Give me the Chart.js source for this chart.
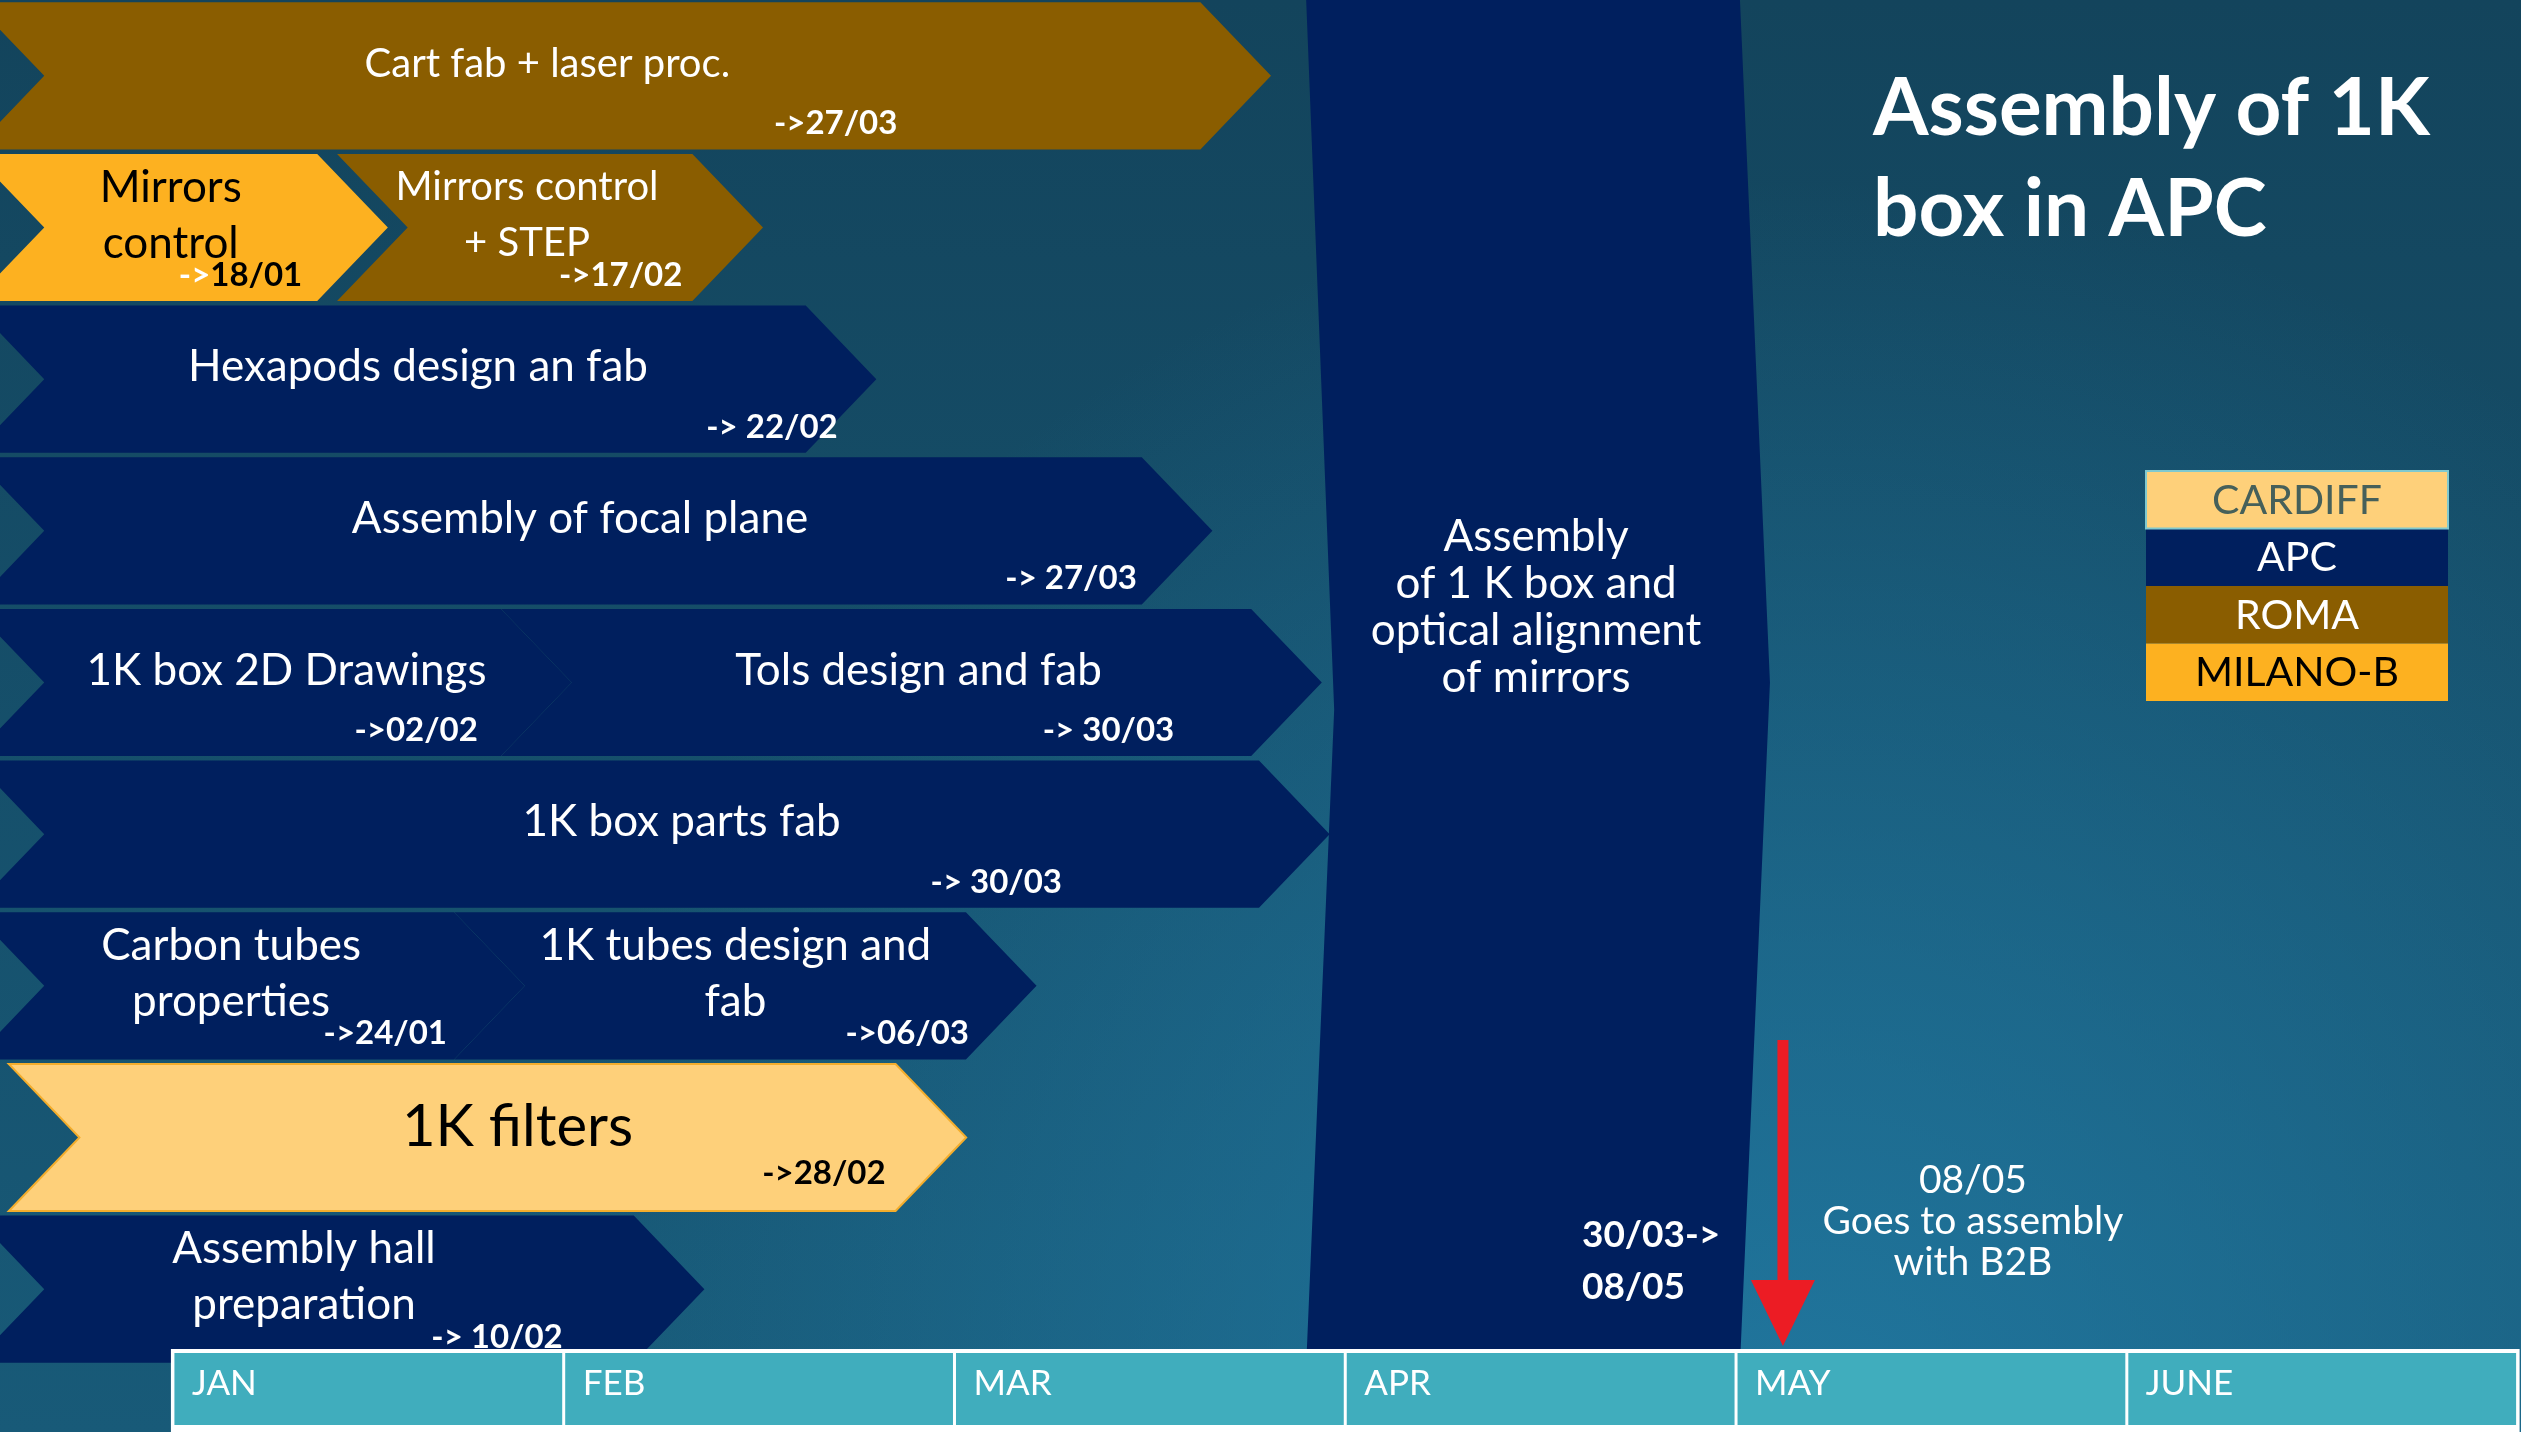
<!DOCTYPE html>
<html>
<head>
<meta charset="utf-8">
<title>Assembly of 1K box in APC</title>
<script src="https://cdn.jsdelivr.net/npm/chart.js@4.4.1/dist/chart.umd.min.js"></script>
<style>
  html, body { margin: 0; padding: 0; background: #14475f; }
  #wrap { width: 2521px; height: 1432px; }
</style>
</head>
<body>
<div id="wrap"><canvas id="plan" width="2521" height="1432"></canvas></div>
<script>
// x unit = 1 month, 0 = 1 January
const months = ['JAN', 'FEB', 'MAR', 'APR', 'MAY', 'JUNE'];

// legend order
const teams = ['CARDIFF', 'APC', 'ROMA', 'MILANO-B'];

// lanes, top to bottom
const lanes = ['L1', 'L2', 'L3', 'L4', 'L5', 'L6', 'L7', 'L8', 'L9'];

const taskNames = [
  'Cart fab + laser proc.',
  'Mirrors\ncontrol',
  'Mirrors control\n+ STEP',
  'Hexapods design an fab',
  'Assembly of focal plane',
  '1K box 2D Drawings',
  'Tols design and fab',
  '1K box parts fab',
  'Carbon tubes\nproperties',
  '1K tubes design and\nfab',
  '1K filters',
  'Assembly hall\npreparation'
];
const taskLane = [0, 1, 1, 2, 3, 4, 4, 5, 6, 6, 7, 8];
const taskTeam = ['ROMA', 'MILANO-B', 'ROMA', 'APC', 'APC', 'APC', 'APC', 'APC', 'APC', 'APC', 'CARDIFF', 'APC'];
const taskStart = [-0.51, -0.51, 0.42, -0.51, -0.51, -0.51, 0.84, -0.51, -0.51, 0.72, -0.42, -0.51];
const taskEnd = [2.81, 0.55, 1.51, 1.80, 2.66, 1.02, 2.94, 2.96, 0.90, 2.21, 2.03, 1.36];
const taskDue = ['->27/03', '->18/01', '->17/02', '-> 22/02', '-> 27/03', '->02/02',
                 '-> 30/03', '-> 30/03', '->24/01', '->06/03', '->28/02', '-> 10/02'];

// integration block over all lanes
const finalName = 'Assembly\nof 1 K box and\noptical alignment\nof mirrors';
const finalSpan = [2.90, 4.01];
const finalDue = '30/03->\n08/05';

const milestoneAt = 4.12;
const milestoneText = '08/05\nGoes to assembly\nwith B2B';

const titleText = 'Assembly of 1K\nbox in APC';

// ---- styles ----
const FONT = "Lato, 'Open Sans', sans-serif";
const teamFill = { 'CARDIFF': '#fed07a', 'APC': '#001f5e', 'ROMA': '#8a5d00', 'MILANO-B': '#fdb120' };
const teamInk = { 'CARDIFF': '#000000', 'APC': '#ffffff', 'ROMA': '#ffffff', 'MILANO-B': '#000000' };
const legendInk = { 'CARDIFF': '#46605a', 'APC': '#ffffff', 'ROMA': '#ffffff', 'MILANO-B': '#000000' };
// small text nudges so labels sit like on the slide
const labelNudge = [-75, -10, -23, -7, -13, 14, 7, 30, -18, -10, 30, -35];
const dueInset = [303, 15, 10, -32, 5, 23, 77, 197, 7, -3, 10, 71];
const labelSize = [40, 44, 40, 44, 44, 44, 44, 44, 44, 44, 58, 44];

function txt(ctx, text, x, y, lh) {
  const parts = text.split('\n');
  const y0 = y - (parts.length - 1) * lh / 2;
  parts.forEach((p, i) => ctx.fillText(p, x, y0 + i * lh));
}

function chevron(ctx, s, e, top, bot, d) {
  const mid = (top + bot) / 2;
  ctx.beginPath();
  ctx.moveTo(s, top);
  ctx.lineTo(e - d, top);
  ctx.lineTo(e, mid);
  ctx.lineTo(e - d, bot);
  ctx.lineTo(s, bot);
  ctx.lineTo(s + d, mid);
  ctx.closePath();
}

const planArt = {
  id: 'planArt',
  beforeDraw(chart) {
    const ctx = chart.ctx;
    const W = chart.width, H = chart.height;
    ctx.save();
    const lin = ctx.createLinearGradient(0, 0, 0, H);
    lin.addColorStop(0, '#13445c');
    lin.addColorStop(1, '#185a78');
    ctx.fillStyle = lin;
    ctx.fillRect(0, 0, W, H);
    const rad = ctx.createRadialGradient(1800, 1480, 0, 1800, 1480, 1300);
    rad.addColorStop(0, 'rgba(34,124,166,0.85)');
    rad.addColorStop(1, 'rgba(34,124,166,0)');
    ctx.fillStyle = rad;
    ctx.fillRect(0, 0, W, H);
    ctx.restore();
  },
  afterDatasetsDraw(chart) {
    const ctx = chart.ctx;
    const x = chart.scales.x;
    ctx.save();
    ctx.textBaseline = 'middle';

    // integration block
    const blk = chart.getDatasetMeta(1).data[0].getProps(['x', 'y', 'base', 'height'], true);
    const bTop = blk.y - blk.height / 2, bBot = blk.y + blk.height / 2;
    ctx.fillStyle = teamFill.APC;
    ctx.beginPath();
    ctx.moveTo(blk.base, bTop);
    ctx.lineTo(blk.x, bTop);
    ctx.lineTo(blk.x + 30, bTop + blk.height * 0.5);
    ctx.lineTo(blk.x, bBot);
    ctx.lineTo(blk.base, bBot);
    ctx.lineTo(blk.base + 28, bTop + blk.height * 0.52);
    ctx.closePath();
    ctx.fill();
    ctx.fillStyle = '#ffffff';
    ctx.textAlign = 'center';
    ctx.font = '44px ' + FONT;
    txt(ctx, finalName, (blk.base + blk.x) / 2 + 13, 607, 47);
    ctx.textAlign = 'left';
    ctx.font = 'bold 37px ' + FONT;
    txt(ctx, finalDue, blk.x - 158, 1261, 52);

    // task chevrons
    const meta = chart.getDatasetMeta(0);
    meta.data.forEach((el, i) => {
      const p = el.getProps(['x', 'y', 'base', 'height'], true);
      const top = p.y - p.height / 2, bot = p.y + p.height / 2;
      const d = p.height * 0.48;
      const team = taskTeam[i];
      chevron(ctx, p.base, p.x, top, bot, d);
      ctx.fillStyle = teamFill[team];
      ctx.fill();
      if (team === 'CARDIFF') {
        ctx.strokeStyle = '#f3ad2c';
        ctx.lineWidth = 2;
        ctx.stroke();
      }
      const bodyEnd = p.x - d;
      const cx = (p.base + d + bodyEnd) / 2 + labelNudge[i];
      ctx.fillStyle = teamInk[team];
      ctx.textAlign = 'center';
      const big = labelSize[i] > 50;
      ctx.font = labelSize[i] + 'px ' + FONT;
      txt(ctx, taskNames[i], cx, p.y - (big ? 10 : 12), 56);

      // due date
      ctx.font = 'bold 33px ' + FONT;
      ctx.textAlign = 'right';
      const rx = bodyEnd - dueInset[i];
      const dy = p.y + (big ? 36 : 48);
      if (team === 'MILANO-B') {
        const m = taskDue[i].match(/^(->\s?)(.*)$/);
        ctx.fillText(m[2], rx, dy);
        const w = ctx.measureText(m[2]).width;
        ctx.fillStyle = '#ffffff';
        ctx.fillText(m[1], rx - w, dy);
      } else {
        ctx.fillText(taskDue[i], rx, dy);
      }
    });

    // milestone arrow
    const ax = x.getPixelForValue(milestoneAt);
    ctx.fillStyle = '#ec1c24';
    ctx.fillRect(ax - 5.5, 1040, 11, 242);
    ctx.beginPath();
    ctx.moveTo(ax - 32, 1280);
    ctx.lineTo(ax + 32, 1280);
    ctx.lineTo(ax, 1346);
    ctx.closePath();
    ctx.fill();
    ctx.fillStyle = '#ffffff';
    ctx.textAlign = 'center';
    ctx.font = '39px ' + FONT;
    txt(ctx, milestoneText, ax + 190, 1221, 41);

    // month strip (x axis)
    const sTop = chart.height - 83;
    const x0 = x.getPixelForValue(0), x6 = x.getPixelForValue(months.length);
    ctx.fillStyle = '#ffffff';
    ctx.fillRect(x0 - 2, sTop, x6 - x0 + 4, chart.height - sTop);
    months.forEach((m, i) => {
      const a = x.getPixelForValue(i), b = x.getPixelForValue(i + 1);
      ctx.fillStyle = '#40adbd';
      ctx.fillRect(a + 1.5, sTop + 4, b - a - 3, 72);
      ctx.fillStyle = '#ffffff';
      ctx.textAlign = 'left';
      ctx.font = '35px ' + FONT;
      ctx.fillText(m, a + 19, sTop + 35);
    });

    // legend
    const lx = 2146, lw = 302, ly = 471, lh = 57.5;
    teams.forEach((t, i) => {
      ctx.fillStyle = teamFill[t];
      ctx.fillRect(lx, ly + i * lh, lw, lh);
      ctx.fillStyle = legendInk[t];
      ctx.textAlign = 'center';
      ctx.font = '41px ' + FONT;
      ctx.fillText(t, lx + lw / 2, ly + i * lh + lh / 2 + 1);
    });
    ctx.strokeStyle = '#7fc9cf';
    ctx.lineWidth = 2;
    ctx.strokeRect(lx, ly, lw, lh);

    // title
    ctx.fillStyle = '#ffffff';
    ctx.textAlign = 'left';
    ctx.textBaseline = 'alphabetic';
    ctx.font = 'bold 80px ' + FONT;
    txt(ctx, titleText, 1873, 185, 101);

    ctx.restore();
  }
};

new Chart(document.getElementById('plan'), {
  type: 'bar',
  data: {
    datasets: [
      {
        label: 'Tasks',
        data: taskNames.map((n, i) => ({ y: lanes[taskLane[i]], x: [taskStart[i], taskEnd[i]] })),
        yAxisID: 'y',
        backgroundColor: 'rgba(0,0,0,0)',
        borderWidth: 0,
        grouped: false,
        barPercentage: 0.97,
        categoryPercentage: 1
      },
      {
        label: 'Integration',
        data: [{ y: 'all', x: finalSpan }],
        yAxisID: 'yAll',
        backgroundColor: 'rgba(0,0,0,0)',
        borderWidth: 0,
        grouped: false,
        barPercentage: 1,
        categoryPercentage: 1
      }
    ]
  },
  options: {
    indexAxis: 'y',
    responsive: false,
    animation: false,
    layout: { padding: { top: 0, right: 0, bottom: 67, left: 0 } },
    scales: {
      x: { type: 'linear', min: -0.4425, max: 6.0087, display: false },
      y: { type: 'category', labels: lanes, display: false },
      yAll: { type: 'category', labels: ['all'], display: false }
    },
    plugins: {
      legend: { display: false },
      tooltip: { enabled: false },
      title: { display: false }
    }
  },
  plugins: [planArt]
});
</script>
</body>
</html>
